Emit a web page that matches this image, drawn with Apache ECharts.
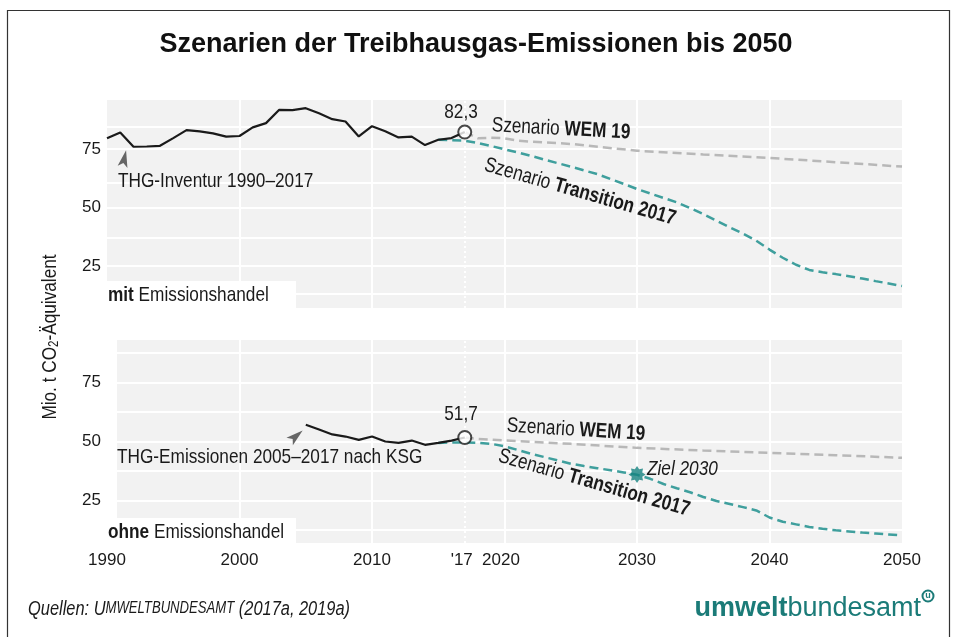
<!DOCTYPE html>
<html><head><meta charset="utf-8">
<script src="https://cdn.jsdelivr.net/npm/echarts@6/dist/echarts.min.js"></script>
<style>html,body{margin:0;padding:0;background:#fff}#c{width:954px;height:637px}</style>
</head><body><div id="c"></div>
<script>
// ---------- DATA ----------
const yearsInventur = [1990,1991,1992,1993,1994,1995,1996,1997,1998,1999,2000,2001,2002,2003,2004,2005,2006,2007,2008,2009,2010,2011,2012,2013,2014,2015,2016,2017];
const mitInventur   = [79.6,82.1,76.0,76.1,76.4,79.7,83.1,82.6,81.7,80.3,80.6,84.3,86.1,91.8,91.7,92.5,90.3,87.8,86.8,80.4,84.8,82.6,80.0,80.3,76.7,79.0,79.7,82.3];
const yearsKsg = [2005,2006,2007,2008,2009,2010,2011,2012,2013,2014,2015,2016,2017];
const ohneKsg  = [57.1,55.1,53.0,52.1,50.7,52.1,50.0,49.4,50.4,48.6,49.4,50.4,51.7];
const yearsWemMit = [2017,2018,2019,2020,2021,2022,2025,2030,2035,2040,2045,2050];
const wemMit      = [82.3,79.6,79.9,79.6,78.6,78.2,77.2,74.3,72.7,71.2,69.4,67.5];
const yearsWemOhne = [2017,2018,2020,2025,2030,2035,2040,2045,2050];
const wemOhne      = [51.7,51.1,50.5,49.0,47.3,46.2,45.2,44.2,43.1];
const yearsTransition = [2015,2016,2017,2018,2019,2020,2021,2022,2023,2024,2025,2026,2027,2028,2029,2030,2031,2032,2033,2034,2035,2036,2037,2038,2039,2040,2041,2042,2043,2044,2045,2046,2047,2048,2049,2050];
const transMit  = [79.0,78.8,78.6,77.6,76.3,74.9,73.6,72.1,70.5,69.0,67.5,65.9,64.3,62.2,60.1,57.9,56.0,54.1,52.2,49.8,47.2,44.3,41.5,38.8,35.8,32.0,28.5,25.5,23.3,22.3,21.5,20.6,19.6,18.5,17.5,16.4];
const transOhne = [49.4,49.6,49.6,49.4,49.0,48.0,46.4,44.8,43.4,42.0,40.6,39.6,38.7,37.8,36.9,35.9,34.2,32.0,30.2,28.5,26.5,24.8,23.5,22.2,20.8,17.8,16.0,14.9,13.8,13.0,12.4,11.9,11.4,11.0,10.6,10.2];
const zielYears  = [2030];
const zielValues = [36.0];
const xLabelYears = [1990,2000,2010,2017,2020,2030,2040,2050];
const xGridYears  = [2000,2010,2020,2030,2040];
const yLabelValues = [25,50,75];
const yGridMit  = [13,25,37,50,60.5,75,84.5];
const yGridOhne = [12.5,25,37.5,50,62.5,75,87.5];

// ---------- STYLE ----------
const FN = "'Liberation Sans',Arial,sans-serif";
const NARROW = 0.82;
const INK = '#1a1a1a', TEAL = '#3f9f9d', GREY = '#b8b8b8', PANEL = '#f2f2f2', LOGO = '#1b7b78';
const pairs = (xs, ys) => xs.map((x, i) => [x, ys[i]]);

function starPath(n, R, r) {
  let d = '';
  for (let i = 0; i < 2 * n; i++) {
    const a = Math.PI * i / n - Math.PI / 2;
    const rad = i % 2 ? r : R;
    d += (i ? 'L' : 'M') + (50 + rad * Math.cos(a)).toFixed(2) + ' ' + (50 + rad * Math.sin(a)).toFixed(2) + ' ';
  }
  return 'path://' + d + 'Z';
}
function arrowHead(cx, cy, deg, s) {
  const a = deg * Math.PI / 180, dx = Math.cos(a), dy = Math.sin(a), px = -dy, py = dx;
  return [[cx + s * dx, cy + s * dy],
          [cx - s * 0.7 * dx + s * 0.5 * px, cy - s * 0.7 * dy + s * 0.5 * py],
          [cx - s * 0.3 * dx, cy - s * 0.3 * dy],
          [cx - s * 0.7 * dx - s * 0.5 * px, cy - s * 0.7 * dy - s * 0.5 * py]];
}

const chart = echarts.init(document.getElementById('c'), null, {renderer: 'canvas', width: 954, height: 637});

const xBase = (gi, min) => ({
  type: 'value', gridIndex: gi, min: min, max: 2050,
  axisLine: {show: false},
  axisTick: {show: false, customValues: xGridYears},
  axisLabel: {show: false},
  splitLine: {show: true, lineStyle: {color: '#fff', width: 2}}
});
const yBase = (gi, min, max, grid, margin) => ({
  type: 'value', gridIndex: gi, min: min, max: max,
  axisLine: {show: false},
  axisTick: {show: false, customValues: grid},
  axisLabel: {customValues: yLabelValues, color: INK, fontSize: 17, fontFamily: FN, margin: margin},
  splitLine: {show: true, lineStyle: {color: '#fff', width: 2}}
});
const dash = (color) => ({color: color, width: 2.5, type: [9, 5]});
const vline = {silent: true, symbol: ['none', 'none'], label: {show: false},
  lineStyle: {color: '#fff', type: [2, 3], width: 2}, data: [{xAxis: 2017}]};

const rich = {
  r: {fontSize: 21, fontFamily: FN, fill: INK},
  b: {fontSize: 21, fontFamily: FN, fontWeight: 'bold', fill: INK}
};
function label(x, y, text, opts) {
  return Object.assign({type: 'text', x: x, y: y, z: 50, scaleX: NARROW,
    style: Object.assign({text: text, rich: rich,
    fontSize: 21, fontFamily: FN, fill: INK, align: 'left', verticalAlign: 'middle'}, opts && opts.style || {})},
    opts && opts.el || {});
}

chart.setOption({
  animation: false,
  grid: [
    {left: 107, top: 100, width: 795, height: 208, show: true, backgroundColor: PANEL, borderWidth: 0},
    {left: 117, top: 340, width: 785, height: 203, show: true, backgroundColor: PANEL, borderWidth: 0},
    {left: 107, top: 543, width: 795, height: 1, show: false}
  ],
  xAxis: [
    xBase(0, 1990), xBase(1, 1990.75),
    {type: 'value', gridIndex: 2, min: 1990, max: 2050, axisLine: {show: false},
     axisTick: {show: false, customValues: xLabelYears}, splitLine: {show: false},
     axisLabel: {customValues: xLabelYears, color: INK, fontSize: 17, fontFamily: FN, margin: 8,
       formatter: v => v === 2017 ? "{s|'17}" : (v === 2020 ? '{t|2020}' : String(v)),
       rich: {s: {fontSize: 17, fontFamily: FN, color: INK, padding: [0, 6, 0, 0]},
              t: {fontSize: 17, fontFamily: FN, color: INK, padding: [0, 7, 0, 0]}}}}
  ],
  yAxis: [
    yBase(0, 7, 96, yGridMit, 6), yBase(1, 7, 93, yGridOhne, 16),
    {type: 'value', gridIndex: 2, show: false}
  ],
  series: [
    {type: 'line', xAxisIndex: 0, yAxisIndex: 0, data: pairs(yearsWemMit, wemMit), showSymbol: false,
     lineStyle: dash(GREY), z: 3, markLine: vline},
    {type: 'line', xAxisIndex: 0, yAxisIndex: 0, data: pairs(yearsTransition, transMit), showSymbol: false,
     lineStyle: dash(TEAL), z: 4},
    {type: 'line', xAxisIndex: 0, yAxisIndex: 0, data: pairs(yearsInventur, mitInventur), showSymbol: false,
     lineStyle: {color: INK, width: 2.2}, z: 5},
    {type: 'scatter', xAxisIndex: 0, yAxisIndex: 0, data: [[yearsInventur[yearsInventur.length - 1], mitInventur[mitInventur.length - 1]]],
     symbolSize: 13, itemStyle: {color: '#fff', borderColor: INK, borderWidth: 2}, z: 10},

    {type: 'line', xAxisIndex: 1, yAxisIndex: 1, data: pairs(yearsWemOhne, wemOhne), showSymbol: false,
     lineStyle: dash(GREY), z: 3, markLine: vline},
    {type: 'line', xAxisIndex: 1, yAxisIndex: 1, data: pairs(yearsTransition, transOhne), showSymbol: false,
     lineStyle: dash(TEAL), z: 4},
    {type: 'line', xAxisIndex: 1, yAxisIndex: 1, data: pairs(yearsKsg, ohneKsg), showSymbol: false,
     lineStyle: {color: INK, width: 2.2}, z: 5},
    {type: 'scatter', xAxisIndex: 1, yAxisIndex: 1, data: [[yearsKsg[yearsKsg.length - 1], ohneKsg[ohneKsg.length - 1]]],
     symbolSize: 13, itemStyle: {color: '#fff', borderColor: INK, borderWidth: 2}, z: 10},
    {type: 'scatter', xAxisIndex: 1, yAxisIndex: 1, data: pairs(zielYears, zielValues),
     symbol: starPath(8, 50, 33), symbolSize: 17, itemStyle: {color: '#15827f'}, z: 10}
  ],
  graphic: [
    {type: 'rect', shape: {x: 7.5, y: 10.5, width: 942, height: 700}, style: {fill: 'none', stroke: '#333', lineWidth: 1.2}, silent: true},
    {type: 'text', x: 476, y: 45, style: {text: 'Szenarien der Treibhausgas-Emissionen bis 2050', fontSize: 27, fontWeight: 'bold',
      fontFamily: FN, fill: '#111', align: 'center', verticalAlign: 'middle'}},
    // y axis title
    {type: 'text', x: 50, y: 337, rotation: Math.PI / 2, scaleX: NARROW,
     style: {text: '{r|Mio. t CO}{s|2}{r|-Äquivalent}', align: 'center', verticalAlign: 'middle',
      rich: {r: {fontSize: 21, fontFamily: FN, fill: INK}, s: {fontSize: 14, fontFamily: FN, fill: INK, padding: [9, 0, 0, 0]}}}},
    // top panel
    {type: 'rect', shape: {x: 107, y: 281, width: 189, height: 28}, style: {fill: '#fff'}, z: 49},
    label(108, 295, '{b|mit}{r| Emissionshandel}'),
    label(118, 181, 'THG-Inventur 1990–2017'),
    {type: 'polygon', shape: {points: arrowHead(124, 160, -78, 10)}, style: {fill: '#666'}, z: 50},
    label(461, 112, '82,3', {style: {align: 'center'}}),
    label(561, 129, '{r|Szenario }{b|WEM 19}', {style: {align: 'center'}, el: {rotation: -3 * Math.PI / 180}}),
    label(580, 192, '{r|Szenario }{b|Transition 2017}', {style: {align: 'center'}, el: {rotation: -16 * Math.PI / 180}}),
    // bottom panel
    {type: 'rect', shape: {x: 107, y: 518, width: 189, height: 27}, style: {fill: '#fff'}, z: 49},
    label(108, 532, '{b|ohne}{r| Emissionshandel}'),
    label(117, 457, 'THG-Emissionen 2005–2017 nach KSG'),
    {type: 'polygon', shape: {points: arrowHead(295, 437, -40, 10)}, style: {fill: '#666'}, z: 50},
    label(461, 414, '51,7', {style: {align: 'center'}}),
    label(576, 430, '{r|Szenario }{b|WEM 19}', {style: {align: 'center'}, el: {rotation: -3.5 * Math.PI / 180}}),
    label(594, 483, '{r|Szenario }{b|Transition 2017}', {style: {align: 'center'}, el: {rotation: -16 * Math.PI / 180}}),
    label(647, 469, 'Ziel 2030', {style: {fontStyle: 'italic', fontSize: 21}}),
    // footer
    {type: 'text', x: 28, y: 609, scaleX: NARROW,
     style: {text: '{i|Quellen: U}{s|MWELTBUNDESAMT}{i| (2017a, 2019a)}', verticalAlign: 'middle',
      rich: {i: {fontSize: 20, fontStyle: 'italic', fontFamily: FN, fill: INK}, s: {fontSize: 16, fontStyle: 'italic', fontFamily: FN, fill: INK}}}},
    {type: 'text', x: 921, y: 609, style: {text: '{b|umwelt}{r|bundesamt}', align: 'right', verticalAlign: 'middle',
      rich: {b: {fontSize: 27, fontWeight: 'bold', fontFamily: FN, fill: LOGO}, r: {fontSize: 27, fontFamily: FN, fill: LOGO}}}},
    {type: 'circle', shape: {cx: 928, cy: 596, r: 5.5}, style: {fill: '#fff', stroke: LOGO, lineWidth: 2}},
    {type: 'text', x: 928, y: 596, style: {text: 'u', fontSize: 9, fontWeight: 'bold', fontFamily: FN, fill: LOGO, align: 'center', verticalAlign: 'middle'}}
  ]
});
</script></body></html>
